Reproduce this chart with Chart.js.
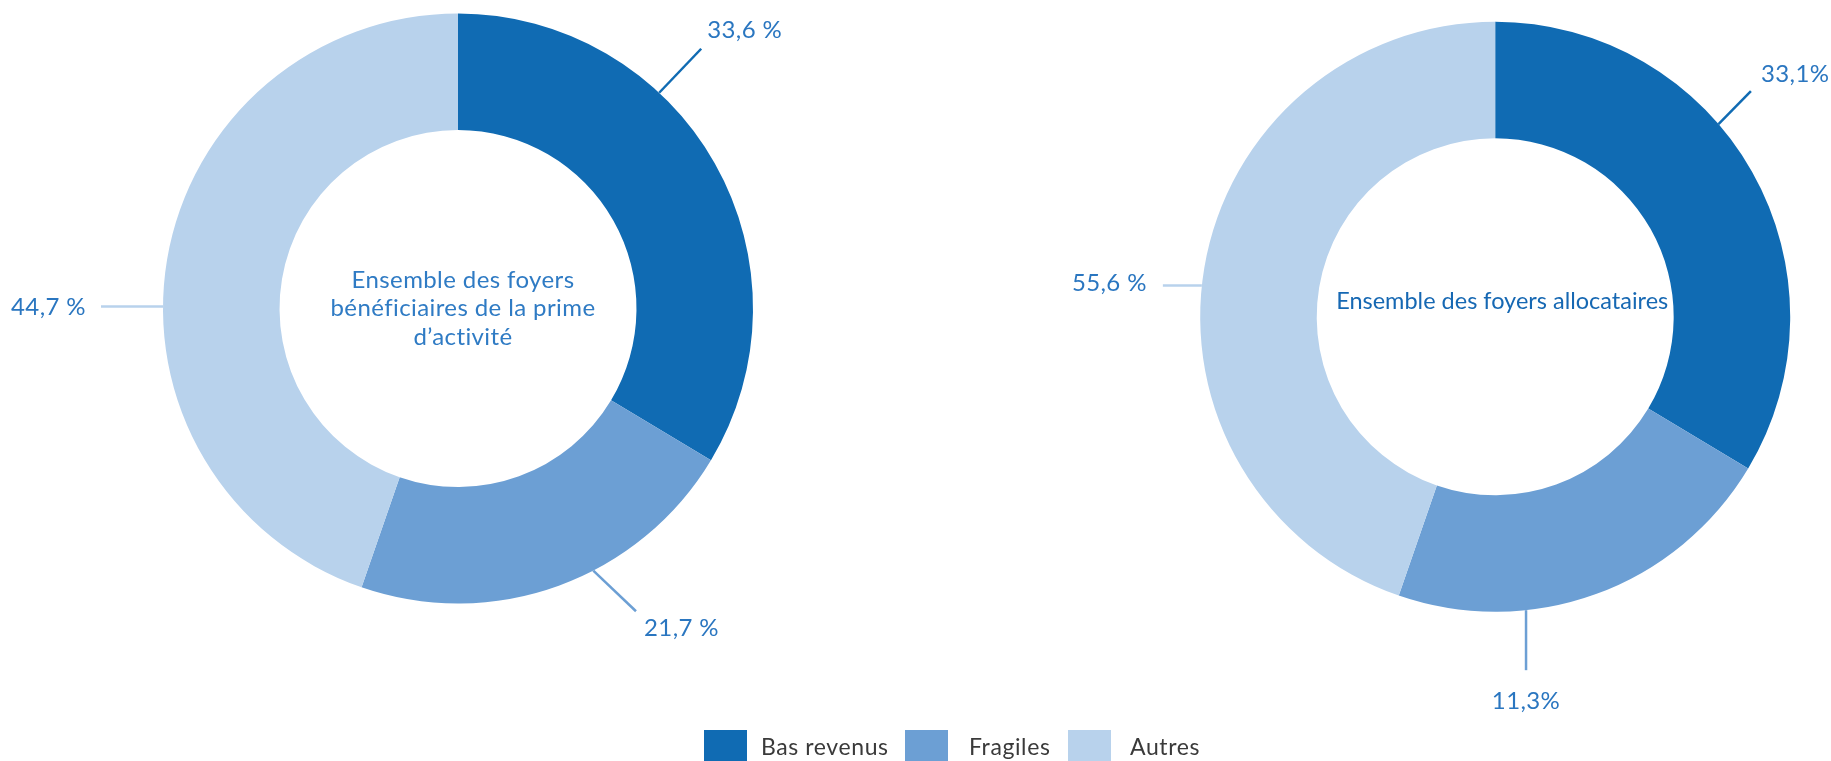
<!DOCTYPE html>
<html lang="fr">
<head>
<meta charset="utf-8">
<script src="https://cdn.jsdelivr.net/npm/chart.js@4"></script>
<style>
  html, body { margin: 0; padding: 0; background: #fff; overflow: hidden; }
  body { width: 1831px; height: 761px; position: relative; font-family: Lato, "Noto Sans", sans-serif; }
  canvas { position: absolute; top: 0; }
  #c1 { left: 0; }
  #c2 { left: 915px; }
  .box { position: absolute; top: 730px; width: 43px; height: 40px; }
  .txt { position: absolute; top: 734px; font-size: 23px; letter-spacing: 0.6px; color: #3a3a3a; line-height: 24px; }
</style>
</head>
<body>
<canvas id="c1" width="915" height="761"></canvas>
<canvas id="c2" width="916" height="761"></canvas>
<div id="legend"></div>

<script>
// Données
const categories = ["Bas revenus", "Fragiles", "Autres"];
const primeValues = [33.6, 21.7, 44.7];
const primeLabels = ["33,6 %", "21,7 %", "44,7 %"];
const allocValues = [33.1, 11.3, 55.6];
const allocLabels = ["33,1%", "11,3%", "55,6 %"];
// dans l'image d'origine, l'anneau de droite est dessiné avec les mêmes
// proportions que celui de gauche (seules les étiquettes changent)
const allocDrawn = [33.6, 21.7, 44.7];

const couleurs = ["#106bb3", "#6c9fd4", "#b8d2ec"];
const texteBleu = "#2a76c0";

// traits de rappel : angle de départ sur le bord (degrés, depuis le haut),
// déplacement du trait, position du texte par rapport au bout du trait
const rappels1 = [
  { a: 43, dx: 42, dy: -44, tx: 6, ty: -18, align: "left" },
  { a: 152.7, dx: 42.7, dy: 40.6, tx: 8, ty: 17.5, align: "left" },
  { a: 270.4, dx: -62, dy: 0, tx: -15, ty: 1, align: "right" },
];
const rappels2 = [
  { a: 49.2, dx: 32.4, dy: -32.8, tx: 10, ty: -17, align: "left" },
  { a: 174, dx: 0, dy: 60, tx: 0, ty: 31.5, align: "center" },
  { a: 276.1, dx: -39, dy: 0, tx: -16, ty: -2.5, align: "right" },
];

// plugin : texte central + traits et étiquettes
const decor = {
  id: "decor",
  afterDatasetsDraw(chart, args, opts) {
    const ctx = chart.ctx;
    const arc = chart.getDatasetMeta(0).data[0];
    const cx = arc.x, cy = arc.y, R = arc.outerRadius;

    ctx.save();
    ctx.letterSpacing = "0.4px";
    // étiquettes
    opts.rappels.forEach((r, i) => {
      const rad = r.a * Math.PI / 180;
      const x0 = cx + R * Math.sin(rad);
      const y0 = cy - R * Math.cos(rad);
      const x1 = x0 + r.dx, y1 = y0 + r.dy;
      ctx.strokeStyle = couleurs[i];
      ctx.lineWidth = 2.5;
      ctx.beginPath();
      ctx.moveTo(x0, y0);
      ctx.lineTo(x1, y1);
      ctx.stroke();
      ctx.fillStyle = texteBleu;
      ctx.font = "24px Lato";
      ctx.textAlign = r.align;
      ctx.textBaseline = "middle";
      ctx.fillText(opts.labels[i], x1 + r.tx, y1 + r.ty);
    });

    // texte central
    ctx.fillStyle = opts.centreCouleur;
    ctx.font = opts.centrePolice;
    ctx.letterSpacing = opts.centreEspace;
    ctx.textAlign = "center";
    ctx.textBaseline = "middle";
    const n = opts.centre.length;
    opts.centre.forEach((ligne, k) => {
      const y = cy + opts.centreDy + (k - (n - 1) / 2) * 28.5;
      ctx.fillText(ligne, cx + opts.centreDx, y);
    });
    ctx.restore();
  },
};

function creerAnneau(id, valeurs, labels, rappels, padding, centre) {
  return new Chart(document.getElementById(id), {
    type: "doughnut",
    data: {
      labels: categories,
      datasets: [{
        data: valeurs,
        backgroundColor: couleurs,
        borderWidth: 0,
        hoverOffset: 0,
      }],
    },
    options: {
      responsive: false,
      animation: false,
      cutout: "60.5%",
      layout: { padding: padding },
      plugins: {
        legend: { display: false },
        tooltip: { enabled: false },
        decor: Object.assign({ labels, rappels }, centre),
      },
    },
    plugins: [decor],
  });
}

creerAnneau("c1", primeValues, primeLabels, rappels1,
  { left: 163, right: 162, top: 13.5, bottom: 157.5 },
  {
    centre: ["Ensemble des foyers", "bénéficiaires de la prime", "d\u2019activité"],
    centreDx: 5, centreDy: 0, centreCouleur: "#2f7bc4",
    centrePolice: "24px Lato", centreEspace: "0.4px",
  });

creerAnneau("c2", allocDrawn, allocLabels, rappels2,
  { left: 285.2, right: 40.8, top: 21.8, bottom: 149.2 },
  {
    centre: ["Ensemble des foyers allocataires"],
    centreDx: 7, centreDy: -15, centreCouleur: "#1668b3",
    centrePolice: "23.5px Lato", centreEspace: "0px",
  });

// légende commune (positions)
const legendeBox = [704, 905, 1068];
const legendeTxt = [761, 969, 1130];
const legende = document.getElementById("legend");
categories.forEach((c, i) => {
  const b = document.createElement("div");
  b.className = "box";
  b.style.left = legendeBox[i] + "px";
  b.style.background = couleurs[i];
  const t = document.createElement("div");
  t.className = "txt";
  t.style.left = legendeTxt[i] + "px";
  t.textContent = c;
  legende.appendChild(b);
  legende.appendChild(t);
});
</script>
</body>
</html>
